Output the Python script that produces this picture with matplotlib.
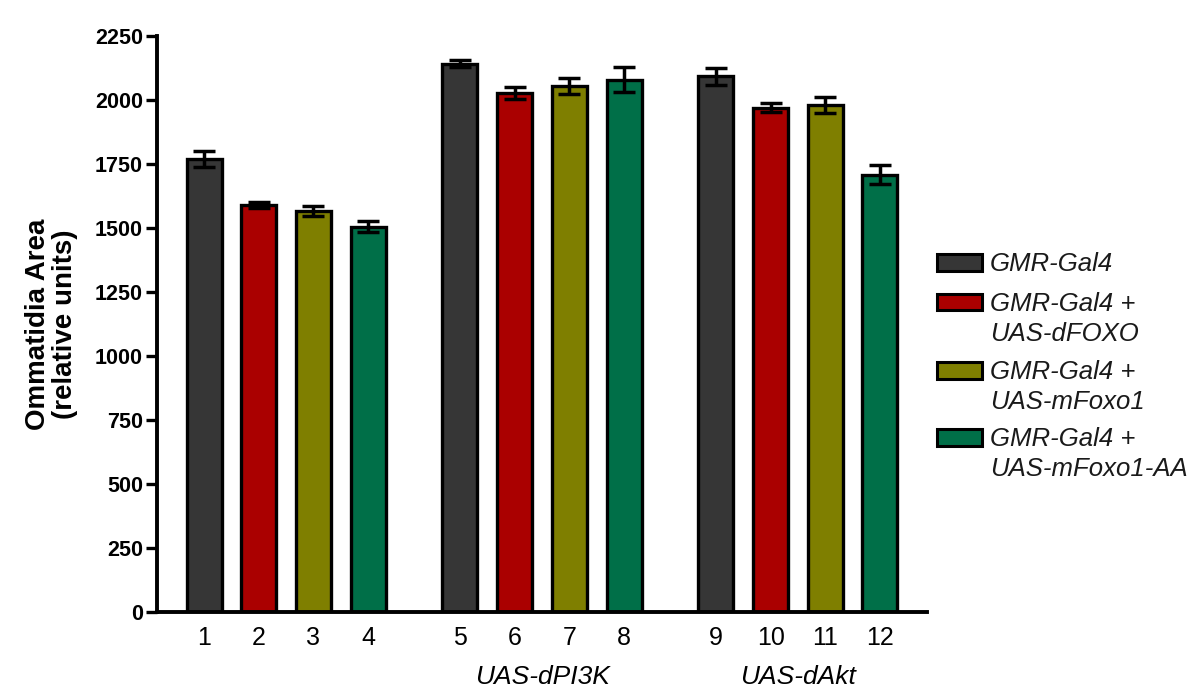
import matplotlib
matplotlib.use("Agg")
import matplotlib.pyplot as plt
from matplotlib.patches import Rectangle
import numpy as np

plt.rcParams['font.family'] = ['Liberation Sans', 'DejaVu Sans']

# ---- data ----
bar_labels = ["1", "2", "3", "4", "5", "6", "7", "8", "9", "10", "11", "12"]
values = [1770, 1590, 1566, 1505, 2142, 2027, 2055, 2080, 2092, 1970, 1980, 1708]
errors = [30, 13, 18, 22, 15, 22, 32, 50, 33, 18, 30, 38]
group_labels = ["", "UAS-dPI3K", "UAS-dAkt"]
series_labels = ["GMR-Gal4", "GMR-Gal4 +\nUAS-dFOXO", "GMR-Gal4 +\nUAS-mFoxo1",
                 "GMR-Gal4 +\nUAS-mFoxo1-AA"]
series_colors = ["#363636", "#aa0000", "#7f7f00", "#006f48"]
y_ticks = [0, 250, 500, 750, 1000, 1250, 1500, 1750, 2000, 2250]
y_label = "Ommatidia Area\n(relative units)"

n_series = len(series_labels)
group_step = 4.68
positions = [g * group_step + i for g in range(len(group_labels)) for i in range(n_series)]
colors = [series_colors[k % n_series] for k in range(len(values))]

fig = plt.figure(figsize=(12, 7), dpi=100)
ax = fig.add_axes([157 / 1200, 88 / 700, 770 / 1200, 576 / 700])

ax.bar(positions, values, width=0.64, color=colors, edgecolor="black", linewidth=2.4,
       zorder=2)
ax.errorbar(positions, values, yerr=errors, fmt="none", ecolor="black", elinewidth=2.5,
            capsize=8, capthick=2.5, zorder=3)

ax.set_xlim(-0.86, 13.22)
ax.set_ylim(0, 2250)
ax.set_yticks(y_ticks)
ax.set_yticklabels([str(t) for t in y_ticks], fontsize=15.5, fontweight="bold")
ax.set_xticks(positions)
ax.set_xticklabels(bar_labels, fontsize=18)
ax.tick_params(axis="x", length=0, pad=10)
ax.tick_params(axis="y", length=8, width=2.4, pad=2)

for s in ["top", "right"]:
    ax.spines[s].set_visible(False)
for s in ["left", "bottom"]:
    ax.spines[s].set_linewidth(2.8)

ax.set_ylabel(y_label, fontsize=20, fontweight="bold", labelpad=12, linespacing=1.05)

# group labels
for g, lab in enumerate(group_labels):
    if lab:
        cx = g * group_step + (n_series - 1) / 2
        ax.text(cx, -0.112, lab, transform=ax.get_xaxis_transform(), ha="center",
                va="center", fontsize=19, style="italic")

# legend (manual, in figure pixel fractions)
W, H = 1200, 700
entry_y = [262, 302, 370, 437]
for k, (lab, col) in enumerate(zip(series_labels, series_colors)):
    yc = entry_y[k]
    fig.add_artist(Rectangle((937 / W, 1 - (yc + 8.5) / H), 45 / W, 17 / H,
                             transform=fig.transFigure, facecolor=col,
                             edgecolor="black", linewidth=2.2))
    for j, line in enumerate(lab.split("\n")):
        fig.text(990 / W, 1 - (yc + 2 + j * 30) / H, line, fontsize=18.5,
                 style="italic", va="center", ha="left", color="#1a1a1a")

fig.savefig("out.png", dpi=100)
